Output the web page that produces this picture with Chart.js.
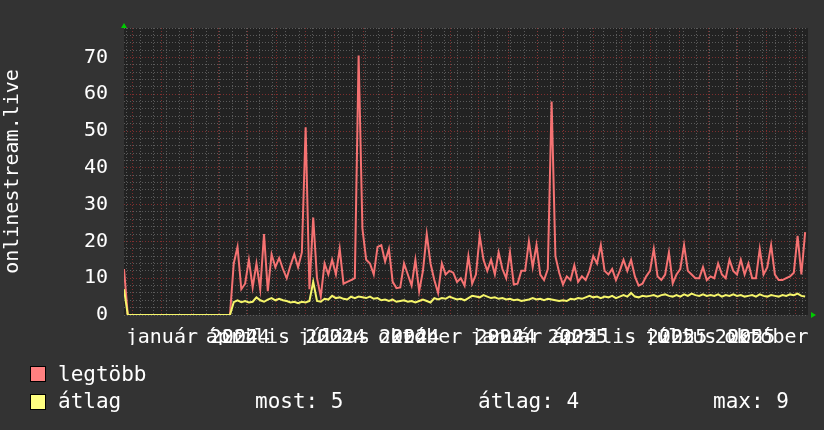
<!DOCTYPE html>
<html>
<head>
<meta charset="utf-8">
<script src="https://cdn.jsdelivr.net/npm/chart.js@4.4.1/dist/chart.umd.min.js"></script>
<style>
  html, body { margin: 0; padding: 0; background: #333333; }
  #wrap { position: relative; width: 824px; height: 430px; overflow: hidden; }
  canvas { display: block; }
  .lg { position: absolute; font-family: "DejaVu Sans Mono", monospace; font-size: 21px; line-height: 24px; color: #ffffff; white-space: pre; }
  .sq { position: absolute; width: 14px; height: 14px; border: 1px solid #000; }
</style>
</head>
<body>
<div id="wrap">
  <canvas id="rrd" width="824" height="430"></canvas>
  <div class="sq" style="left:30px; top:366px; background:#ff8080;"></div>
  <div class="lg" style="left:58px; top:362px;">legtöbb</div>
  <div class="sq" style="left:30px; top:394px; background:#ffff80;"></div>
  <div class="lg" style="left:58px; top:389px;">átlag</div>
  <div class="lg" style="left:255px; top:389px;">most: 5</div>
  <div class="lg" style="left:478px; top:389px;">átlag: 4</div>
  <div class="lg" style="left:713px; top:389px;">max: 9</div>
</div>
<script>
// minta 4 naponta, 2023-11-22-tol
const stepDays = 4;
const totalDays = 723;

const legtobb = [
  12.5, 0, 0, 0, 0, 0, 0, 0, 0, 0, 0, 0, 0, 0, 0, 0, 0, 0, 0, 0, 0, 0, 0, 0, 0, 0, 0, 0, 0,
  14, 18.5, 7, 8.5, 15, 7.5, 14, 7, 22, 6.5,
  16.5, 13, 15.5, 12.5, 10, 13.5, 16.5, 13, 17, 51,
  7, 26.5, 10, 5, 14, 11, 15, 11, 18, 8.5,
  9, 9.5, 10, 70.5, 23.5, 15, 14, 11, 18.5, 19,
  14.5, 18, 9, 7.3, 7.5, 14, 11, 8, 15, 6.5,
  12, 22, 14, 9.5, 6, 14, 11, 12, 11.5, 9,
  10, 8, 16, 8.5, 11, 21.5, 15, 12, 15, 11,
  17, 12.5, 10, 17, 8.3, 8.5, 12, 12, 20, 13,
  19, 11, 9.5, 12.5, 58, 16, 11.5, 8.3, 10.5, 9.5,
  13.5, 9, 10.5, 9.5, 12, 16, 14, 19, 12, 11,
  12.5, 9.5, 12, 15, 12, 15, 10.5, 8, 8.5, 10.5,
  12, 18, 10.5, 9.5, 11, 17, 8.6, 11, 12.5, 19,
  12, 11, 10, 10, 13, 9.5, 10.5, 10, 14, 11,
  10, 15, 12, 11, 15, 11, 14, 10, 10, 18,
  11, 13, 19, 11, 9.5, 9.5, 10, 10.5, 11.5, 21.5,
  11, 22.5
];

const atlag = [
  7, 0, 0, 0, 0, 0, 0, 0, 0, 0, 0, 0, 0, 0, 0, 0, 0, 0, 0, 0, 0, 0, 0, 0, 0, 0, 0, 0, 0,
  3.5, 4, 3.5, 3.8, 3.4, 3.6, 4.8, 4, 3.6, 4.2,
  4.6, 4, 4.4, 4, 3.8, 3.4, 3.6, 3.2, 3.6, 3.4,
  3.8, 9, 3.8, 3.6, 4.4, 4.2, 5.2, 4.6, 4.8, 4.4,
  4.2, 5, 4.6, 5, 4.8, 4.6, 5, 4.4, 4.6, 4,
  4.2, 3.8, 4.2, 3.6, 3.8, 4, 3.6, 3.8, 3.4, 3.8,
  4.2, 3.8, 3.4, 4.6, 4.2, 4.6, 4.4, 5, 4.6, 4.2,
  4.4, 4, 4.6, 5.2, 5, 4.8, 5.4, 5, 4.6, 4.8,
  4.4, 4.6, 4.2, 4.4, 4, 4.2, 3.8, 4, 4.2, 4.6,
  4.2, 4.4, 4, 4.4, 4.2, 4, 3.8, 4, 3.8, 4.4,
  4.2, 4.6, 4.4, 4.8, 5.2, 4.8, 5, 4.6, 5, 4.8,
  5.2, 4.6, 5, 5.4, 5, 6, 5, 4.8, 5.2, 5,
  5.2, 5.4, 5, 5.4, 5.6, 5.2, 5, 5.4, 5, 5.6,
  5.2, 5.8, 5.4, 5.2, 5.6, 5.2, 5.4, 5.2, 5.6, 5,
  5.4, 5.2, 5.6, 5.2, 5.4, 5, 5.2, 5.4, 5, 5.6,
  5.2, 5, 5.4, 5.2, 5, 5.4, 5.2, 5.6, 5.4, 5.8,
  5.2, 5
];

// tengely feliratok (nap a kezdettol)
const monthDays = [40, 131, 222, 313, 404, 497, 588, 679];
const monthNames = ["január", "április", "július", "október", "január", "április", "július", "október"];
const yearDays = [116, 129, 217, 230, 295, 308, 397, 410, 473, 486, 578, 591, 650, 663];
const yearNames = ["2024", "2024", "2024", "2024", "2024", "2024", "2024", "2024", "2025", "2025", "2025", "2025", "2025", "2025"];
// honap kezdetek (fo racs)
const majorGridDays = [9, 40, 71, 100, 131, 161, 192, 222, 253, 284, 314, 345, 375, 406, 437, 465, 496, 526, 557, 587, 618, 649, 679, 710];
const yMax = 78;
const yStep = 2;

const FONT = '"DejaVu Sans Mono", monospace';
const MINOR = "rgba(110,110,110,0.75)";
const MAJOR = "rgba(150,50,50,0.8)";

const toPoints = (arr) => arr.map((v, i) => ({ x: i * stepDays, y: v }));

const labelTicks = [];
monthDays.forEach((d, i) => labelTicks.push({ value: d, label: monthNames[i] }));
yearDays.forEach((d, i) => labelTicks.push({ value: d, label: yearNames[i] }));

const gridTicks = [];
for (let d = 3; d <= totalDays; d += 14) gridTicks.push({ value: d, major: false });
majorGridDays.forEach((d) => gridTicks.push({ value: d, major: true }));

const yTicks = [];
for (let v = 0; v <= yMax; v += yStep) yTicks.push({ value: v });

const bgPlugin = {
  id: "bg",
  beforeDraw(chart) {
    const { ctx, chartArea } = chart;
    ctx.save();
    ctx.fillStyle = "#333333";
    ctx.fillRect(0, 0, chart.width, chart.height);
    ctx.fillStyle = "#222222";
    ctx.fillRect(chartArea.left, chartArea.top, chartArea.right - chartArea.left, chartArea.bottom - chartArea.top);
    ctx.restore();
  },
  afterDraw(chart) {
    // zold nyilak a tengelyek vegen
    const { ctx, chartArea } = chart;
    ctx.save();
    ctx.fillStyle = "#00cc00";
    ctx.beginPath();
    ctx.moveTo(chartArea.left - 3, chartArea.top);
    ctx.lineTo(chartArea.left + 3, chartArea.top);
    ctx.lineTo(chartArea.left, chartArea.top - 5);
    ctx.closePath();
    ctx.fill();
    ctx.beginPath();
    ctx.moveTo(chartArea.right + 3, chartArea.bottom - 3);
    ctx.lineTo(chartArea.right + 3, chartArea.bottom + 3);
    ctx.lineTo(chartArea.right + 8, chartArea.bottom);
    ctx.closePath();
    ctx.fill();
    ctx.restore();
  },
};

new Chart(document.getElementById("rrd"), {
  type: "line",
  data: {
    datasets: [
      {
        label: "átlag",
        data: toPoints(atlag),
        borderColor: "#f5f56a",
        borderWidth: 2,
        pointRadius: 0,
        tension: 0,
        order: 0,
      },
      {
        label: "legtöbb",
        data: toPoints(legtobb),
        borderColor: "#f57272",
        borderWidth: 2,
        pointRadius: 0,
        tension: 0,
        order: 1,
      },
    ],
  },
  options: {
    responsive: false,
    animation: false,
    devicePixelRatio: 1,
    layout: { padding: { left: 0, right: 16, top: 13, bottom: 85 } },
    plugins: { legend: { display: false }, tooltip: { enabled: false } },
    scales: {
      x: {
        type: "linear",
        position: "bottom",
        min: 0,
        max: totalDays,
        afterBuildTicks: (scale) => {
          scale.ticks = labelTicks.map((t) => ({ value: t.value }));
        },
        afterFit: (scale) => {
          scale.height = 30;
        },
        ticks: {
          autoSkip: false,
          maxRotation: 0,
          minRotation: 0,
          padding: 3,
          color: "#ffffff",
          font: { family: FONT, size: 20 },
          callback: (value, index) => labelTicks[index].label,
        },
        grid: { display: false },
        border: { display: false },
      },
      xg: {
        type: "linear",
        position: "bottom",
        min: 0,
        max: totalDays,
        afterBuildTicks: (scale) => {
          scale.ticks = gridTicks.map((t) => ({ value: t.value, major: t.major }));
        },
        afterFit: (scale) => {
          scale.height = 0;
        },
        ticks: { display: false },
        grid: {
          drawTicks: false,
          lineWidth: 1,
          color: (c) => (c.tick && c.tick.major ? MAJOR : MINOR),
        },
        border: { display: false, dash: [1, 2] },
      },
      y: {
        min: 0,
        max: yMax,
        afterBuildTicks: (scale) => {
          scale.ticks = yTicks.map((t) => ({ value: t.value }));
        },
        ticks: {
          autoSkip: false,
          padding: 16,
          color: "#ffffff",
          font: { family: FONT, size: 20 },
          callback: (v) => (v % 10 === 0 ? String(v) : ""),
        },
        afterFit: (scale) => {
          scale.width = 124;
        },
        grid: {
          drawTicks: false,
          lineWidth: 1,
          color: (c) => (c.tick && c.tick.value % 10 === 0 && c.tick.value > 0 ? MAJOR : MINOR),
        },
        border: { display: false, dash: [1, 2] },
        title: {
          display: true,
          text: "onlinestream.live",
          color: "#ffffff",
          font: { family: FONT, size: 20 },
          padding: { top: 1, bottom: 0 },
        },
      },
    },
  },
  plugins: [bgPlugin],
});
</script>
</body>
</html>
